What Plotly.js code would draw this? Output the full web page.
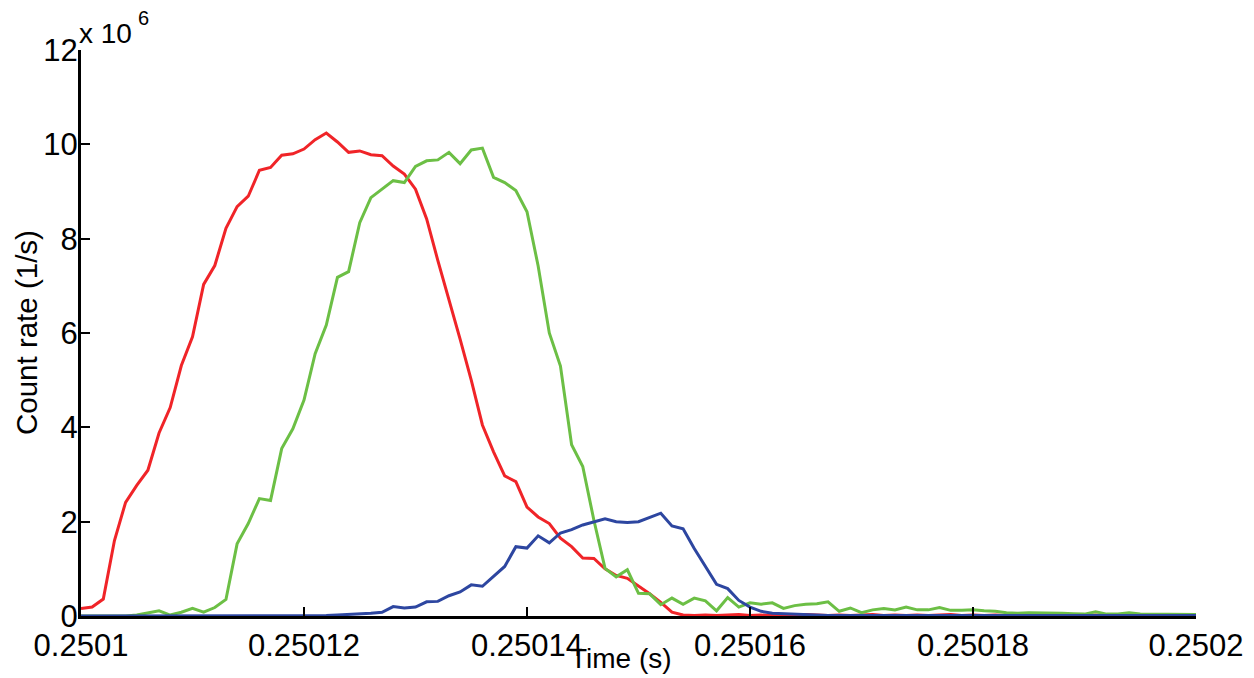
<!DOCTYPE html>
<html>
<head>
<meta charset="utf-8">
<script src="https://cdn.plot.ly/plotly-3.0.1.min.js"></script>
<style>
html,body{margin:0;padding:0;background:#fff;}
#chart{width:1254px;height:678px;}
</style>
</head>
<body>
<div id="chart"></div>
<script>
// Time axis: 101 samples, 1 microsecond apart, starting at 0.2501 s
const tStart = 0.2501;
const tStep = 1e-6;

// Count rates in units of 10^6 1/s
const redCounts = [
  0.16,0.19,0.36,1.60,2.41,2.77,3.09,3.88,4.42,5.31,
  5.92,7.03,7.43,8.22,8.68,8.90,9.45,9.51,9.77,9.80,
  9.90,10.10,10.24,10.05,9.83,9.86,9.78,9.76,9.54,9.37,
  9.05,8.42,7.54,6.73,5.87,5.00,4.05,3.48,2.97,2.85,
  2.31,2.10,1.96,1.65,1.47,1.23,1.22,1.00,0.86,0.80,
  0.64,0.47,0.29,0.08,0.02,0.01,0.02,0.01,0.02,0.03,
  0.01,0.02,0.01,0.02,0.01,0.03,0.02,0.01,0.02,0.01,
  0.02,0.03,0.01,0.02,0.01,0.02,0.01,0.02,0.03,0.01,
  0.02,0.01,0.02,0.01,0.02,0.01,0.02,0.03,0.01,0.02,
  0.01,0.02,0.01,0.02,0.03,0.02,0.01,0.02,0.03,0.02,
  0.02
];
const greenCounts = [
  0.00,0.00,0.00,0.00,0.00,0.02,0.06,0.11,0.02,0.08,
  0.16,0.08,0.18,0.35,1.53,1.96,2.49,2.45,3.55,3.97,
  4.58,5.56,6.17,7.18,7.30,8.34,8.87,9.05,9.23,9.19,
  9.53,9.65,9.67,9.83,9.59,9.88,9.92,9.30,9.19,9.02,
  8.57,7.42,6.00,5.30,3.63,3.17,2.03,1.01,0.83,0.98,
  0.48,0.47,0.24,0.38,0.25,0.38,0.32,0.11,0.39,0.19,
  0.28,0.25,0.28,0.16,0.22,0.25,0.26,0.30,0.10,0.17,
  0.07,0.13,0.16,0.13,0.19,0.13,0.13,0.18,0.12,0.12,
  0.13,0.11,0.10,0.07,0.06,0.07,0.07,0.06,0.06,0.05,
  0.04,0.09,0.04,0.04,0.07,0.04,0.04,0.04,0.03,0.03,
  0.03
];
const blueCounts = [
  0.00,0.00,0.00,0.00,0.00,0.00,0.00,0.00,0.00,0.00,
  0.00,0.00,0.00,0.00,0.00,0.00,0.01,0.01,0.01,0.01,
  0.01,0.01,0.01,0.02,0.03,0.05,0.06,0.08,0.20,0.17,
  0.19,0.30,0.31,0.43,0.51,0.66,0.63,0.84,1.05,1.47,
  1.44,1.70,1.55,1.76,1.83,1.93,2.00,2.06,2.00,1.98,
  2.00,2.09,2.18,1.91,1.85,1.43,1.04,0.67,0.58,0.33,
  0.19,0.10,0.06,0.05,0.03,0.03,0.02,0.01,0.01,0.01,
  0.01,0.01,0.01,0.01,0.01,0.01,0.01,0.01,0.01,0.01,
  0.01,0.01,0.01,0.01,0.01,0.01,0.01,0.01,0.01,0.01,
  0.01,0.01,0.01,0.01,0.01,0.01,0.01,0.01,0.01,0.01,
  0.01
];

const xTickVals = [0.2501,0.25012,0.25014,0.25016,0.25018,0.2502];
const xTickText = ["0.2501","0.25012","0.25014","0.25016","0.25018","0.2502"];
const yTickVals = [0,2,4,6,8,10,12];
const yTickText = ["0","2","4","6","8","10","12"];

const times = redCounts.map((_, i) => +(tStart + i * tStep).toFixed(7));

const font = "Liberation Sans, Arial, Helvetica, sans-serif";

const traces = [
  {x: times, y: redCounts, type: "scatter", mode: "lines", line: {color: "#f02428", width: 3}, name: "red"},
  {x: times, y: greenCounts, type: "scatter", mode: "lines", line: {color: "#6cbf45", width: 3}, name: "green"},
  {x: times, y: blueCounts, type: "scatter", mode: "lines", line: {color: "#2d46a0", width: 3}, name: "blue"}
];

const layout = {
  width: 1254, height: 678,
  margin: {l: 81, r: 58, t: 50, b: 62},
  paper_bgcolor: "#fff", plot_bgcolor: "#fff",
  showlegend: false,
  font: {family: font, color: "#000", size: 30},
  xaxis: {
    range: [0.2501, 0.2502],
    tickvals: xTickVals, ticktext: xTickText,
    ticks: "inside", ticklen: 9, tickwidth: 2, tickcolor: "#000",
    showline: true, linecolor: "#000", linewidth: 3,
    showgrid: false, zeroline: false,
    tickfont: {family: font, size: 31, color: "#000"},
    ticklabelstandoff: 0
  },
  yaxis: {
    range: [0, 12],
    tickvals: yTickVals, ticktext: yTickText,
    ticks: "inside", ticklen: 9, tickwidth: 2, tickcolor: "#000",
    showline: true, linecolor: "#000", linewidth: 3,
    showgrid: false, zeroline: false,
    tickfont: {family: font, size: 31, color: "#000"},
    ticklabelstandoff: -6
  },
  annotations: [
    {xref: "paper", yref: "paper", x: 0.4843, y: -0.045, xanchor: "center", yanchor: "top",
     text: "Time (s)", showarrow: false, font: {family: font, size: 28, color: "#000"}},
    {xref: "paper", yref: "paper", x: -0.0493, y: 0.5, xanchor: "center", yanchor: "middle",
     text: "Count rate (1/s)", textangle: -90, showarrow: false, font: {family: font, size: 29.5, color: "#000"}},
    {xref: "paper", yref: "paper", x: 0.0, y: 0.9988, xanchor: "left", yanchor: "bottom",
     text: "x 10", showarrow: false, font: {family: font, size: 28, color: "#000"}, xshift: -4},
    {xref: "paper", yref: "paper", x: 0.049, y: 1.080, xanchor: "left", yanchor: "top",
     text: "6", showarrow: false, font: {family: font, size: 20, color: "#000"}}
  ]
};

Plotly.newPlot("chart", traces, layout, {displayModeBar: false, staticPlot: true});
</script>
</body>
</html>
